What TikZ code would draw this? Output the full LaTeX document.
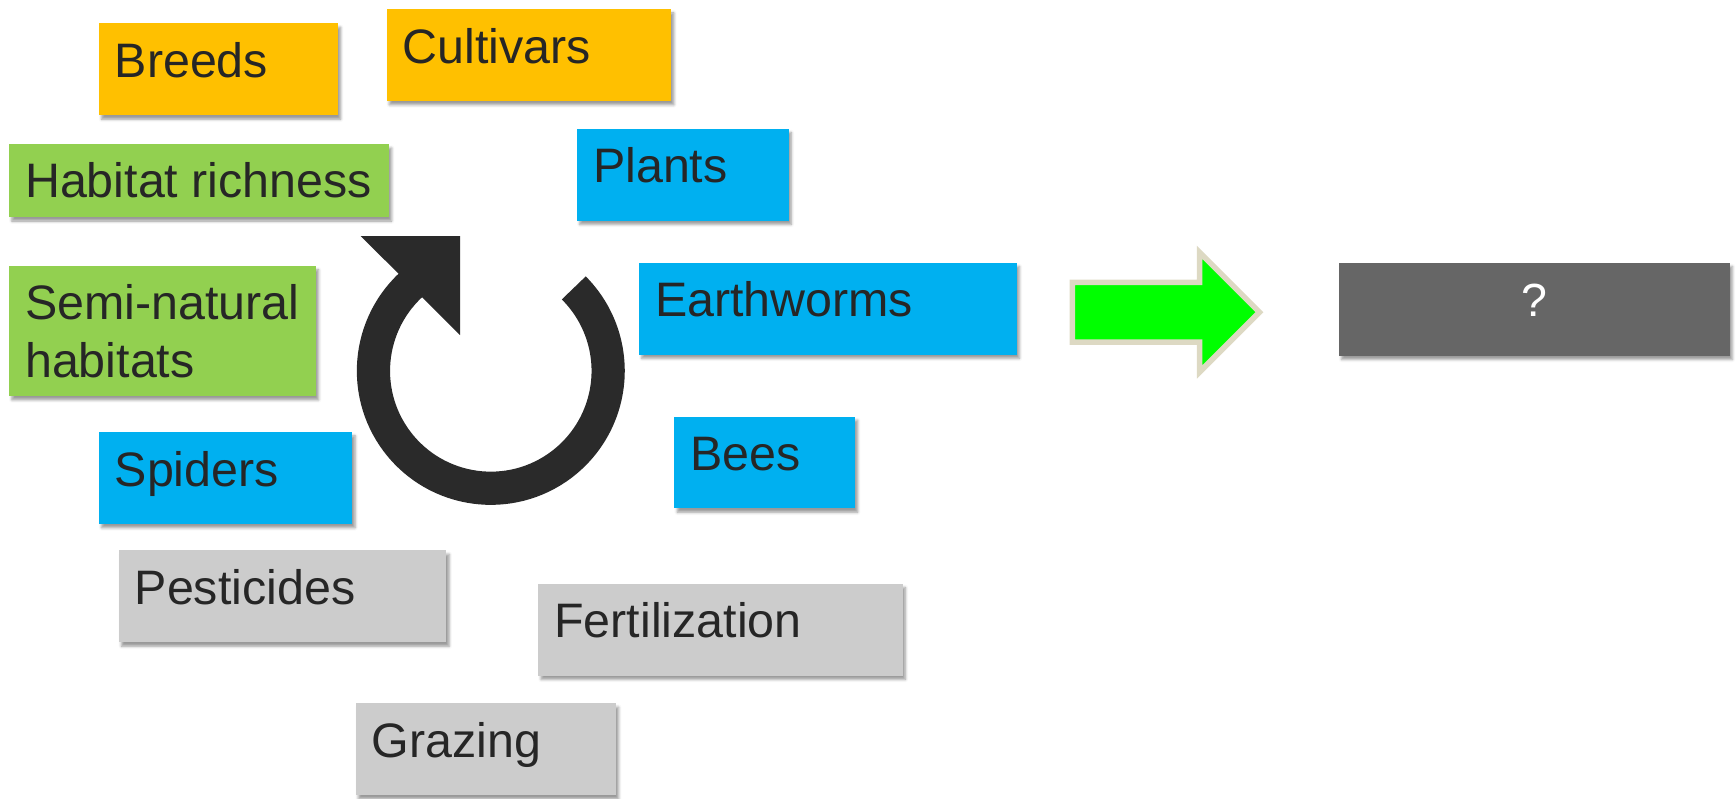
\documentclass[tikz,border=0pt]{standalone}
\usepackage{fontspec}
\setmainfont{Liberation Sans}
\usetikzlibrary{shadows.blur}
\definecolor{cOrange}{HTML}{FFC000}
\definecolor{cGreen}{HTML}{92D050}
\definecolor{cBlue}{HTML}{00B0F0}
\definecolor{cGray}{HTML}{CCCCCC}
\definecolor{cDark}{HTML}{666666}
\definecolor{cText}{HTML}{262626}
\definecolor{cIcon}{HTML}{2A2A2A}
\definecolor{cArrow}{HTML}{00FF00}
\definecolor{cArrowLine}{HTML}{DDD9C3}
\newcommand\boxtxt[2]{\makebox[#1bp][l]{#2}}
\begin{document}
\begin{tikzpicture}[x=1bp, y=-1bp,
  box/.style={anchor=north west, inner xsep=14.5bp, inner ysep=0pt,
    text height=49bp, text depth=34bp,
    font=\fontsize{43.7bp}{52bp}\selectfont, text=cText,
    blur shadow={shadow xshift=2.5bp, shadow yshift=-3.5bp,
      shadow blur radius=2.5bp, shadow opacity=40}},
  orangebox/.style={box, fill=cOrange},
  greenbox/.style={box, fill=cGreen},
  bluebox/.style={box, fill=cBlue},
  graybox/.style={box, fill=cGray}]
\useasboundingbox (0,0) rectangle (1568,721);

\node[orangebox] (breeds) at (89,21) {\boxtxt{187}{Breeds}};
\node[orangebox] (cultivars) at (349,8) {\boxtxt{228}{Cultivars}};
\node[greenbox, text height=48.5bp, text depth=17.5bp] (habitat) at (8,130) {\boxtxt{314}{Habitat richness}};
\node[bluebox] (plants) at (521,116) {\boxtxt{162}{Plants}};
\node[greenbox, text height=48.5bp, text depth=69bp] (semi) at (8,240)
  {\boxtxt{248}{\begin{tabular}[t]{@{}l@{}}Semi-natural\\habitats\end{tabular}}};
\node[bluebox] (earthworms) at (577,237) {\boxtxt{312}{Earthworms}};
\node[bluebox] (spiders) at (89,390) {\boxtxt{200}{Spiders}};
\node[bluebox] (bees) at (609,376) {\boxtxt{134}{Bees}};
\node[graybox] (pesticides) at (107,497) {\boxtxt{267}{Pesticides}};
\node[graybox] (fertilization) at (486,527) {\boxtxt{300}{Fertilization}};
\node[graybox] (grazing) at (321,635) {\boxtxt{206}{Grazing}};
\node[box, fill=cDark, text=white, text height=48.5bp, text depth=35.5bp,
  font=\fontsize{42bp}{50bp}\selectfont] (question) at (1209,237)
  {\makebox[324bp][c]{?}};

% green block arrow
\draw[line width=5bp, draw=cArrowLine, fill=cArrow, miter limit=10]
  (968.5,255) -- (1083.5,255) -- (1083.5,228) -- (1137.5,282)
  -- (1083.5,336) -- (1083.5,309) -- (968.5,309) -- cycle;

% circular arrow icon
\coordinate (c) at (443.3,335);
\draw[line width=30bp, cIcon] ([shift={(-130:106)}]c)
  arc[start angle=-130, end angle=-405, radius=106];
\fill[cIcon] (325.8,213.2) -- (415.5,213.2) -- (415.5,302.6) -- cycle;
\end{tikzpicture}
\end{document}
